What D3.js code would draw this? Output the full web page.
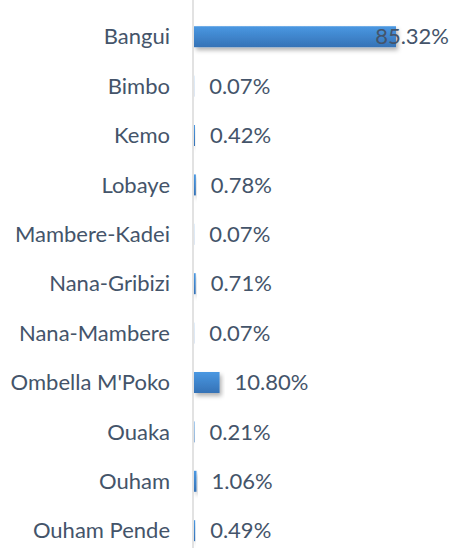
<!DOCTYPE html>
<html>
<head>
<meta charset="utf-8">
<script src="https://cdn.jsdelivr.net/npm/d3@7"></script>
<style>
  body { margin: 0; background: #fff; }
  text { font-family: Lato, "Open Sans", sans-serif; fill: #44546a; }
</style>
</head>
<body>
<div id="holder"></div>
<script>
const prefectures = ["Bangui", "Bimbo", "Kemo", "Lobaye", "Mambere-Kadei", "Nana-Gribizi",
  "Nana-Mambere", "Ombella M'Poko", "Ouaka", "Ouham", "Ouham Pende"];
const shares = [85.32, 0.07, 0.42, 0.78, 0.07, 0.71, 0.07, 10.80, 0.21, 1.06, 0.49];

const width = 454;
const height = 548;
const axisX = 193;
const fontSize = 22;

const svg = d3.select("#holder")
  .append("svg")
  .attr("width", width)
  .attr("height", height);

const defs = svg.append("defs");
const grad = defs.append("linearGradient")
  .attr("id", "barGrad")
  .attr("x1", 0).attr("y1", 0).attr("x2", 0).attr("y2", 1);
grad.append("stop").attr("offset", "0%").attr("stop-color", "#4a98e2");
grad.append("stop").attr("offset", "100%").attr("stop-color", "#3572b6");

const shadow = defs.append("filter")
  .attr("id", "shadow")
  .attr("x", "-10%").attr("y", "-20%").attr("width", "130%").attr("height", "180%");
shadow.append("feDropShadow")
  .attr("dx", 2).attr("dy", 3).attr("stdDeviation", 2)
  .attr("flood-color", "#000").attr("flood-opacity", 0.3);

const y = d3.scaleBand()
  .domain(prefectures)
  .range([11.4, 556])
  .paddingInner(0.575)
  .paddingOuter(0.3);

const x = d3.scaleLinear()
  .domain([0, 85.32])
  .range([axisX + 1, 396]);

// category labels
svg.selectAll(".cat")
  .data(prefectures)
  .enter()
  .append("text")
  .attr("class", "cat")
  .attr("x", 170)
  .attr("y", (d) => y(d) + y.bandwidth() / 2)
  .attr("dy", "0.35em")
  .attr("text-anchor", "end")
  .attr("font-size", fontSize)
  .text((d) => d);

// bars
svg.selectAll(".bar")
  .data(shares)
  .enter()
  .append("rect")
  .attr("class", "bar")
  .attr("x", x(0))
  .attr("y", (d, i) => y(prefectures[i]))
  .attr("width", (d) => x(d) - x(0))
  .attr("height", y.bandwidth())
  .attr("fill", "url(#barGrad)")
  .attr("filter", "url(#shadow)");

// axis line
svg.append("line")
  .attr("x1", axisX).attr("x2", axisX)
  .attr("y1", 0).attr("y2", height)
  .attr("stroke", "#d9d9d9")
  .attr("stroke-width", 1.5);

// value labels
svg.selectAll(".val")
  .data(shares)
  .enter()
  .append("text")
  .attr("class", "val")
  .attr("y", (d, i) => y(prefectures[i]) + y.bandwidth() / 2)
  .attr("dy", "0.35em")
  .attr("font-size", fontSize)
  .text((d) => d.toFixed(2) + "%")
  .each(function (d) {
    const w = this.getComputedTextLength();
    let px = x(d) + 15;
    if (px + w > width - 5) px = width - 5 - w;
    d3.select(this).attr("x", px);
  });
</script>
</body>
</html>
